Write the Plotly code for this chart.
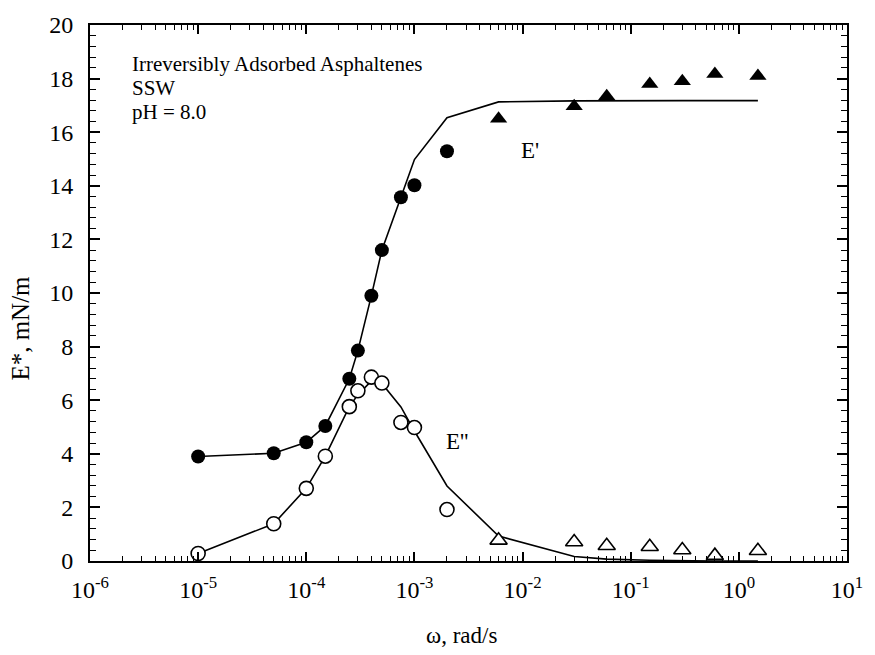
import plotly.graph_objects as go

# E' (storage) data: circles then triangles
ep_circ_x = [1e-5, 5e-5, 1e-4, 1.5e-4, 2.5e-4, 3e-4, 4e-4, 5e-4, 7.5e-4, 1e-3, 2e-3]
ep_circ_y = [3.9, 4.02, 4.43, 5.04, 6.8, 7.85, 9.9, 11.6, 13.57, 14.02, 15.29]
ep_tri_x = [6e-3, 3e-2, 6e-2, 0.15, 0.3, 0.6, 1.5]
ep_tri_y = [16.5, 16.97, 17.34, 17.8, 17.9, 18.17, 18.1]

# E'' (loss) data
epp_circ_x = [1e-5, 5e-5, 1e-4, 1.5e-4, 2.5e-4, 3e-4, 4e-4, 5e-4, 7.5e-4, 1e-3, 2e-3]
epp_circ_y = [0.28, 1.39, 2.71, 3.91, 5.76, 6.35, 6.86, 6.64, 5.17, 4.98, 1.92]
epp_tri_x = [6e-3, 3e-2, 6e-2, 0.15, 0.3, 0.6, 1.5]
epp_tri_y = [0.77, 0.71, 0.57, 0.53, 0.41, 0.2, 0.38]

# model curves
fit_x = [1e-5, 5e-5, 1e-4, 1.5e-4, 2.5e-4, 3e-4, 4e-4, 5e-4, 7.5e-4, 1e-3, 2e-3, 6e-3,
         3e-2, 6e-2, 0.15, 0.3, 0.6, 1.5]
fit_ep = [3.9, 4.02, 4.43, 5.04, 6.8, 7.85, 9.9, 11.6, 13.57, 14.98, 16.54, 17.13,
          17.17, 17.18, 17.18, 17.18, 17.18, 17.18]
fit_epp = [0.28, 1.39, 2.71, 3.91, 5.76, 6.2, 6.72, 6.62, 5.75, 4.85, 2.8, 0.93,
           0.17, 0.07, 0.03, 0.01, 0.0, 0.0]

x_tickvals = [1e-6, 1e-5, 1e-4, 1e-3, 1e-2, 1e-1, 1e0, 1e1]
x_ticktext = ["10<sup>-6</sup>", "10<sup>-5</sup>", "10<sup>-4</sup>", "10<sup>-3</sup>",
              "10<sup>-2</sup>", "10<sup>-1</sup>", "10<sup>0</sup>", "10<sup>1</sup>"]

FONT = "Liberation Serif"
MS = 14

fig = go.Figure()
fig.add_trace(go.Scatter(x=fit_x, y=fit_ep, mode="lines",
                         line=dict(color="black", width=1.6), showlegend=False))
fig.add_trace(go.Scatter(x=fit_x, y=fit_epp, mode="lines",
                         line=dict(color="black", width=1.6), showlegend=False))
fig.add_trace(go.Scatter(x=ep_circ_x, y=ep_circ_y, mode="markers",
                         marker=dict(symbol="circle", size=MS, color="black"), showlegend=False))
fig.add_trace(go.Scatter(x=ep_tri_x, y=ep_tri_y, mode="markers",
                         marker=dict(symbol="triangle-up", size=15, color="black"), showlegend=False))
fig.add_trace(go.Scatter(x=epp_circ_x, y=epp_circ_y, mode="markers",
                         marker=dict(symbol="circle", size=MS, color="white",
                                     line=dict(color="black", width=1.6)), showlegend=False))
fig.add_trace(go.Scatter(x=epp_tri_x, y=epp_tri_y, mode="markers",
                         marker=dict(symbol="triangle-up", size=15, color="white",
                                     line=dict(color="black", width=1.6)), showlegend=False))

fig.update_xaxes(type="log", range=[-6, 1], tickvals=x_tickvals, ticktext=x_ticktext,
                 ticks="inside", ticklen=9, tickwidth=1.5, tickcolor="black",
                 showline=True, linecolor="black", linewidth=2, mirror="allticks",
                 showgrid=False, zeroline=False,
                 tickfont=dict(family=FONT, size=24, color="black"),
                 ticklabelstandoff=6,
                 minor=dict(tickvals=[m * 10 ** e for e in range(-6, 1) for m in range(2, 10)],
                            ticks="inside", ticklen=5, tickwidth=1.2, tickcolor="black",
                            showgrid=False))
fig.update_yaxes(range=[0, 20], dtick=2, tick0=0,
                 ticks="inside", ticklen=10, tickwidth=1.5, tickcolor="black",
                 showline=True, linecolor="black", linewidth=2, mirror="allticks",
                 showgrid=False, zeroline=False,
                 tickfont=dict(family=FONT, size=24, color="black"),
                 ticklabelstandoff=10,
                 minor=dict(dtick=0.4, tick0=0, ticks="inside", ticklen=6, tickwidth=1.2,
                            tickcolor="black", showgrid=False))

L, R, T, B = 90, 858, 19, 561
W, H = 875, 655


def px2paper(x, y):
    return (x - L) / (R - L), (B - y) / (B - T)


annots = [
    (131, 58, "Irreversibly Adsorbed Asphaltenes"),
    (131, 83, "SSW"),
    (131, 107, "pH = 8.0"),
]
for (x, y, t) in annots:
    xp, yp = px2paper(x, y)
    fig.add_annotation(x=xp, y=yp, xref="paper", yref="paper", xanchor="left",
                       yanchor="middle", showarrow=False, text=t,
                       font=dict(family=FONT, size=21, color="black"))
for (x, y, t) in [(536, 146, "E'"), (462, 440, "E''")]:
    xp, yp = px2paper(x, y)
    fig.add_annotation(x=xp, y=yp, xref="paper", yref="paper", xanchor="center",
                       yanchor="middle", showarrow=False, text=t,
                       font=dict(family=FONT, size=23, color="black"))

# axis titles
xp, yp = px2paper(467, 636)
fig.add_annotation(x=xp, y=yp, xref="paper", yref="paper", xanchor="center",
                   yanchor="middle", showarrow=False, text="ω, rad/s",
                   font=dict(family=FONT, size=23, color="black"))
xp, yp = px2paper(20, 326)
fig.add_annotation(x=xp, y=yp, xref="paper", yref="paper", xanchor="center",
                   yanchor="middle", showarrow=False, text="E*, mN/m", textangle=-90,
                   font=dict(family=FONT, size=25, color="black"))

fig.update_layout(width=W, height=H, plot_bgcolor="white", paper_bgcolor="white",
                  margin=dict(l=L, r=W - R, t=T, b=H - B), showlegend=False)
fig.write_html("out.html")
